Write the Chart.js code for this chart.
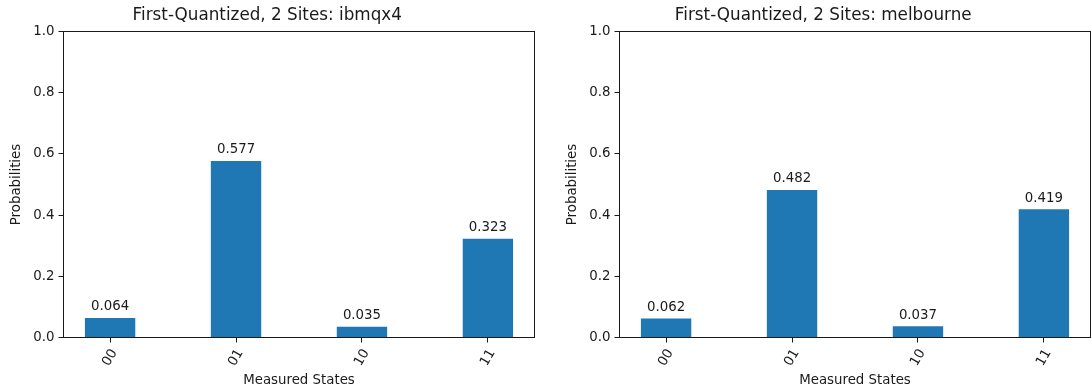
<!DOCTYPE html>
<html>
<head>
<meta charset="utf-8">
<script src="https://cdn.jsdelivr.net/npm/chart.js@4.4.0/dist/chart.umd.min.js"></script>
<style>
  html, body { margin: 0; padding: 0; background: #fff; overflow: hidden; width: 1091px; height: 392px; }
  canvas { position: absolute; top: 0; }
  #left { left: 0; }
  #right { left: 556px; }
</style>
</head>
<body>
<canvas id="left" width="545" height="392"></canvas>
<canvas id="right" width="545" height="392"></canvas>
<script>
// data
const states = ['00', '01', '10', '11'];
const ibmqx4 = [0.064, 0.577, 0.035, 0.323];
const melbourne = [0.062, 0.482, 0.037, 0.419];
const yTicks = [0, 0.2, 0.4, 0.6, 0.8, 1.0];

const INK = '#1a1a1a';
const BLUE = '#1f77b4';
const FAMILY = '"DejaVu Sans", sans-serif';
const SMALL = 13.33;

// spines, bar values and rotated x labels
const decorations = {
  id: 'decorations',
  afterDatasetsDraw(chart) {
    const { ctx, chartArea: a, scales: { x } } = chart;
    ctx.save();
    ctx.font = SMALL + 'px ' + FAMILY;
    ctx.fillStyle = INK;

    // value above each bar
    ctx.textAlign = 'center';
    ctx.textBaseline = 'alphabetic';
    const ds = chart.data.datasets[0];
    chart.getDatasetMeta(0).data.forEach((bar, i) => {
      ctx.fillText(ds.data[i].y.toFixed(3), bar.x, bar.y - 7.6);
    });

    // frame
    ctx.strokeStyle = INK;
    ctx.lineWidth = 1;
    ctx.strokeRect(a.left, a.top, a.right - a.left, a.bottom - a.top);

    // tick labels, rotated 60deg, centred under the tick
    const rad = Math.PI / 3;
    ctx.textBaseline = 'middle';
    states.forEach((s, i) => {
      const px = x.getPixelForValue(i);
      const w = ctx.measureText(s).width;
      const bh = w * Math.sin(rad) + SMALL * Math.cos(rad);
      ctx.save();
      ctx.translate(px, a.bottom + 9.5 + bh / 2);
      ctx.rotate(-rad);
      ctx.fillText(s, 0, 0);
      ctx.restore();
    });
    ctx.restore();
  }
};

function makeChart(id, title, values) {
  new Chart(document.getElementById(id), {
    type: 'bar',
    data: {
      datasets: [{
        data: values.map((v, i) => ({ x: i, y: v })),
        backgroundColor: BLUE,
        barPercentage: 0.4,
        categoryPercentage: 1.0
      }]
    },
    options: {
      responsive: false,
      animation: false,
      layout: { padding: { left: 0, right: 10.5, top: 0, bottom: 0 } },
      plugins: {
        legend: { display: false },
        tooltip: { enabled: false },
        title: {
          display: true,
          text: title,
          color: INK,
          font: { family: FAMILY, size: 16.8, weight: 'normal', lineHeight: 1.2 },
          padding: { top: 5.1, bottom: 6.24 }
        }
      },
      scales: {
        x: {
          type: 'linear',
          min: -0.37,
          max: 3.37,
          offset: false,
          afterBuildTicks: s => { s.ticks = states.map((c, i) => ({ value: i })); },
          afterFit: s => { s.height = 54.5; },
          ticks: { display: false },
          grid: { offset: false, drawOnChartArea: false, drawTicks: true, tickLength: 5, color: INK, tickColor: INK },
          border: { display: false },
          title: {
            display: true,
            text: 'Measured States',
            color: INK,
            font: { family: FAMILY, size: SMALL, lineHeight: 1.2 },
            padding: { top: 0, bottom: 3 }
          }
        },
        y: {
          min: 0,
          max: 1,
          afterBuildTicks: s => { s.ticks = yTicks.map(v => ({ value: v })); },
          afterFit: s => { s.width = 63.5; },
          ticks: {
            color: INK,
            padding: 4,
            font: { family: FAMILY, size: SMALL },
            callback: v => v.toFixed(1)
          },
          grid: { drawOnChartArea: false, drawTicks: true, tickLength: 5, color: INK, tickColor: INK },
          border: { display: false },
          title: {
            display: true,
            text: 'Probabilities',
            color: INK,
            font: { family: FAMILY, size: SMALL, lineHeight: 1.2 },
            padding: { top: 9, bottom: 0 }
          }
        }
      }
    },
    plugins: [decorations]
  });
}

makeChart('left', 'First-Quantized, 2 Sites: ibmqx4', ibmqx4);
makeChart('right', 'First-Quantized, 2 Sites: melbourne', melbourne);
</script>
</body>
</html>
